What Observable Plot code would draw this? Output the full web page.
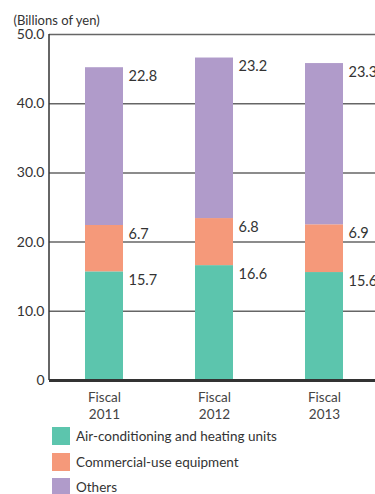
<!DOCTYPE html>
<html>
<head>
<meta charset="utf-8">
<script src="https://cdn.jsdelivr.net/npm/d3@7"></script>
<script src="https://cdn.jsdelivr.net/npm/@observablehq/plot@0.6"></script>
<style>
  body { margin: 0; background: #fff; font-family: Lato, "Noto Sans", sans-serif; }
  #chart svg { display: block; }
  .legend { margin: 1.5px 0 0 52px; }
  .legend .row { display: flex; align-items: center; height: 25.5px; }
  .legend .sw { width: 18px; height: 18px; margin-right: 6px; flex: none; }
  .legend span { font-size: 13.5px; line-height: 18px; color: #333; }
</style>
</head>
<body>
<div id="chart"></div>
<div class="legend" id="legend"></div>
<script>
// Sales breakdown by product line (billions of yen)
const years = ["2011", "2012", "2013"];
const series = ["Air-conditioning and heating units", "Commercial-use equipment", "Others"];
const airCon = [15.7, 16.6, 15.6];
const commercial = [6.7, 6.8, 6.9];
const others = [22.8, 23.2, 23.3];
const colors = ["#5cc5ad", "#f5997a", "#b09bca"];
const yTicks = [0, 10, 20, 30, 40, 50];

const values = [airCon, commercial, others];
const rows = [];
years.forEach((yr, i) => {
  series.forEach((s, j) => rows.push({year: yr, series: s, value: values[j][i]}));
});

// Left axis line, drawn from the frame dimensions
const leftAxis = (index, scales, vals, dim) => {
  const g = d3.create("svg:line")
    .attr("x1", dim.marginLeft).attr("x2", dim.marginLeft)
    .attr("y1", dim.marginTop).attr("y2", dim.height - dim.marginBottom)
    .attr("stroke", "#333").attr("stroke-width", 1.5);
  return g.node();
};

const chart = Plot.plot({
  width: 375,
  height: 422,
  marginLeft: 49,
  marginRight: 0,
  marginTop: 34,
  marginBottom: 42,
  style: {fontFamily: "Lato, 'Noto Sans', sans-serif", fontSize: "14px", color: "#333", background: "#fff"},
  x: {domain: years, range: [49, 379], paddingInner: 0.655, paddingOuter: 0.3275, axis: null},
  y: {domain: [0, 50], axis: null, label: null},
  color: {domain: series, range: colors},
  marks: [
    Plot.ruleY(yTicks.filter(d => d > 0), {stroke: "#666", strokeWidth: 1.5}),
    Plot.barY(rows, {x: "year", y: "value", fill: "series"}),
    Plot.ruleY([0], {stroke: "#333", strokeWidth: 3}),
    leftAxis,
    Plot.axisY(yTicks, {
      label: null, tickSize: 0, tickPadding: 5, fontSize: 14, fill: "#333",
      tickFormat: d => d === 0 ? "0" : d.toFixed(1)
    }),
    Plot.text(rows, Plot.stackY2({
      x: "year", y: "value", text: d => d.value.toFixed(1),
      dx: 24, dy: 3, textAnchor: "start", lineAnchor: "top",
      fill: "#333", fontSize: 14.5
    })),
    Plot.text(years, {
      x: d => d, text: d => "Fiscal\n" + d, frameAnchor: "bottom",
      lineAnchor: "top", dy: 10, lineHeight: 1.24, fontSize: 13.5, fill: "#444"
    }),
    Plot.text(["(Billions of yen)"], {
      frameAnchor: "top-left", textAnchor: "start", dx: -36, dy: -19,
      fontSize: 13, fill: "#333"
    })
  ]
});
document.getElementById("chart").append(chart);

const legend = document.getElementById("legend");
series.forEach((s, i) => {
  const row = document.createElement("div");
  row.className = "row";
  const sw = document.createElement("div");
  sw.className = "sw";
  sw.style.background = colors[i];
  const t = document.createElement("span");
  t.textContent = s;
  row.append(sw, t);
  legend.append(row);
});
</script>
</body>
</html>
